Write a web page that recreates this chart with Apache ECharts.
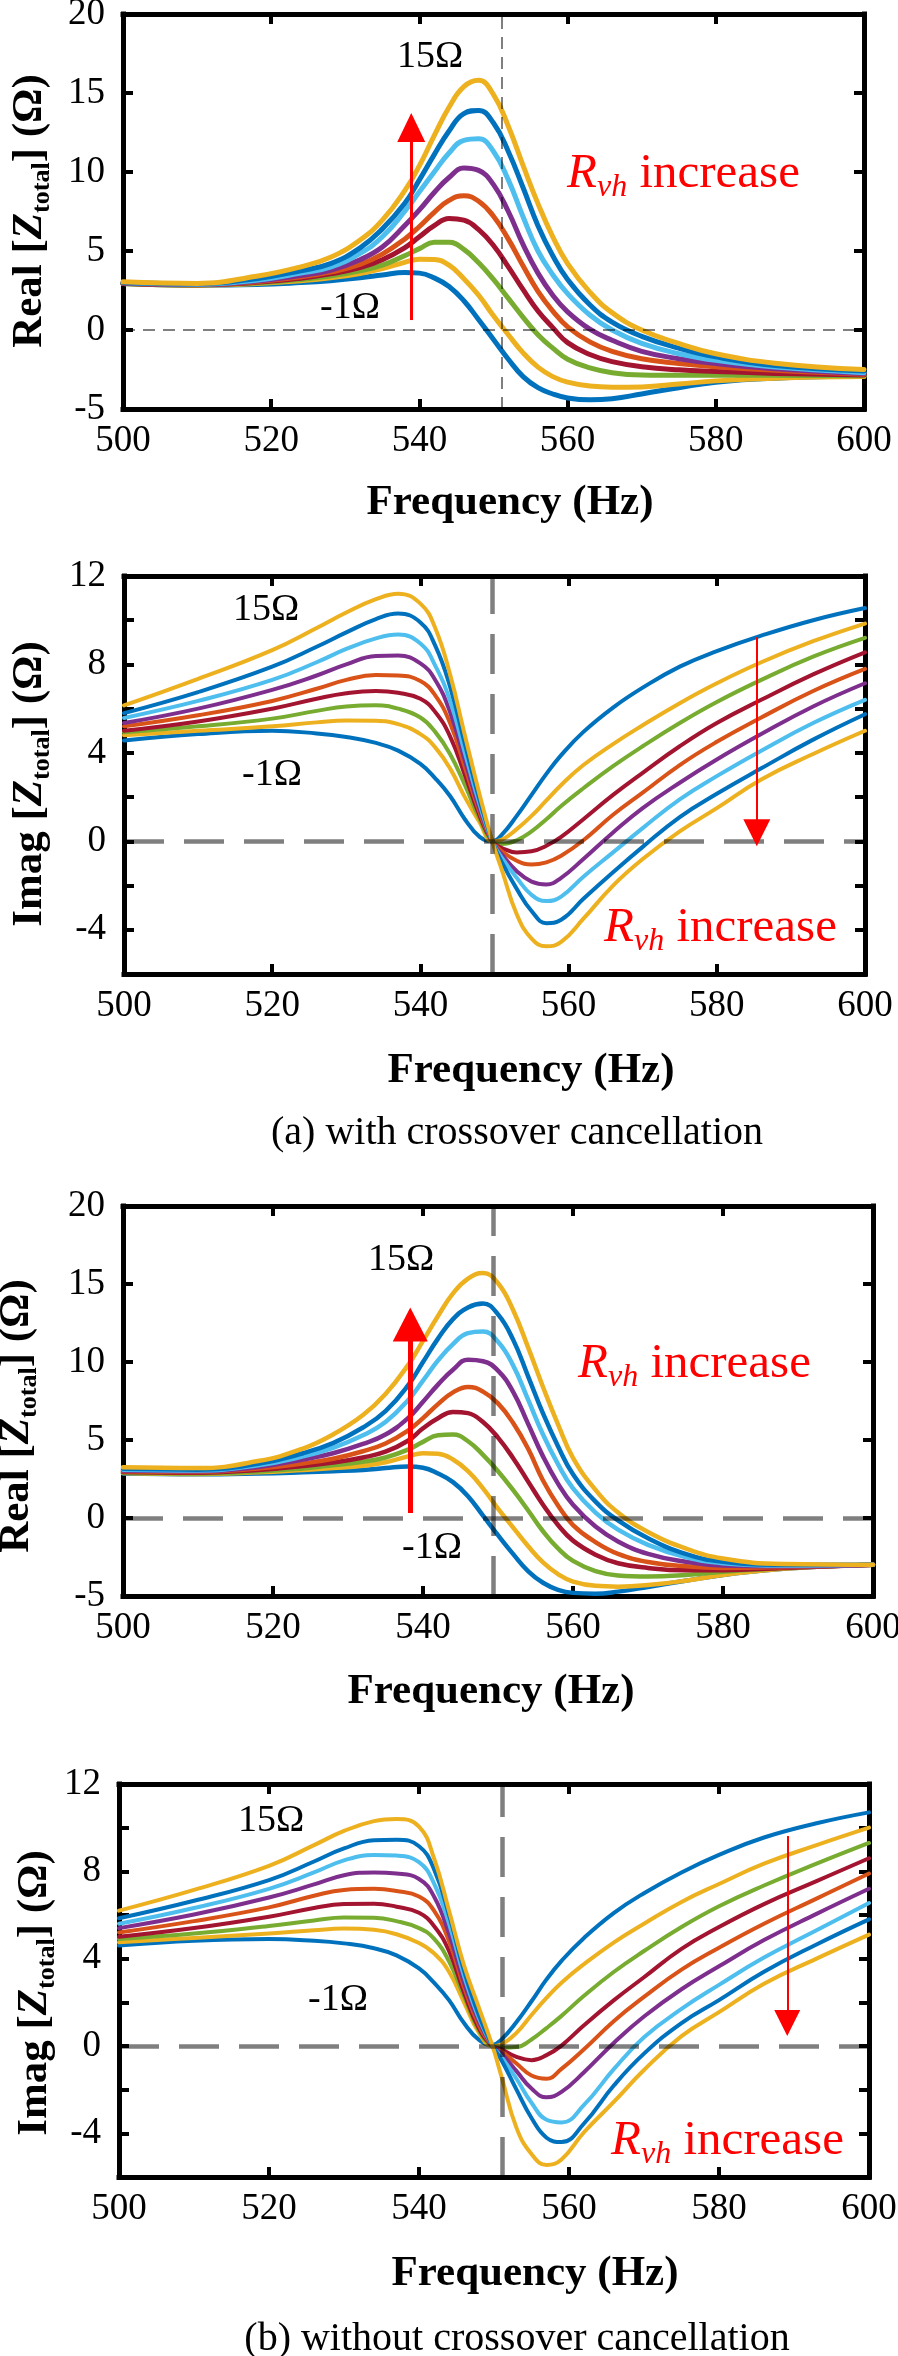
<!DOCTYPE html>
<html><head><meta charset="utf-8">
<script src="https://cdn.jsdelivr.net/npm/echarts@6/dist/echarts.min.js"></script>
<style>html,body{margin:0;padding:0;background:#fff}#c{width:898px;height:2356px}</style>
</head><body><div id="c"></div>
<script>
// ---------- DATA ----------
const rvhValues = ['-1Ω', '1Ω', '3Ω', '5Ω', '7Ω', '9Ω', '11Ω', '13Ω', '15Ω'];
const curveColors = ['#0072BD', '#EDB120', '#77AC30', '#A2142F', '#D95319', '#7E2F8E', '#4DBEEE', '#0072BD', '#EDB120'];

// Real part frequency grid (Hz)
const freqReal = [500, 510, 518, 524, 528, 532, 535, 538, 540, 542, 544, 546, 548, 550, 552, 554, 556, 558, 560, 563, 566, 570, 575, 580, 588, 600];

// (a) with crossover cancellation – Real
const realA_m1 = [2.94, 2.84, 2.88, 3.0, 3.12, 3.3, 3.48, 3.64, 3.6, 3.3, 2.75, 1.85, 0.65, -0.6, -1.85, -2.95, -3.65, -4.05, -4.3, -4.42, -4.35, -4.05, -3.65, -3.3, -3.05, -2.9];
const realA_p1 = [2.94, 2.84, 2.94, 3.12, 3.3, 3.58, 3.88, 4.28, 4.48, 4.46, 4.1, 3.25, 2.2, 0.9, -0.3, -1.45, -2.35, -2.95, -3.3, -3.55, -3.62, -3.6, -3.42, -3.22, -3.05, -2.95];
const realA_p3 = [2.95, 2.85, 2.98, 3.2, 3.42, 3.75, 4.1, 4.7, 5.15, 5.55, 5.55, 5.1, 4.25, 3.2, 2.0, 0.8, -0.3, -1.15, -1.85, -2.4, -2.7, -2.85, -2.87, -2.87, -2.87, -2.9];
const realA_p5 = [2.96, 2.86, 3.02, 3.28, 3.55, 3.95, 4.45, 5.2, 5.9, 6.6, 7.05, 6.95, 6.35, 5.35, 4.0, 2.55, 1.2, 0.15, -0.8, -1.55, -2.0, -2.32, -2.52, -2.62, -2.75, -2.85];
const realA_p7 = [2.97, 2.87, 3.06, 3.36, 3.66, 4.15, 4.8, 5.75, 6.55, 7.45, 8.2, 8.5, 8.15, 7.2, 5.75, 4.05, 2.45, 1.2, 0.2, -0.75, -1.35, -1.82, -2.12, -2.32, -2.55, -2.8];
const realA_p9 = [2.98, 2.88, 3.1, 3.45, 3.78, 4.45, 5.25, 6.6, 7.6, 8.7, 9.65, 10.25, 10.1, 9.2, 7.5, 5.4, 3.6, 2.2, 1.15, 0.05, -0.65, -1.35, -1.82, -2.12, -2.45, -2.75];
const realA_p11 = [3.0, 2.9, 3.15, 3.6, 3.98, 4.85, 5.9, 7.5, 8.75, 10.0, 11.2, 12.0, 12.1, 11.3, 9.5, 7.15, 5.0, 3.5, 2.3, 0.95, 0.0, -0.85, -1.5, -1.92, -2.35, -2.7];
const realA_p13 = [3.0, 2.92, 3.25, 3.75, 4.2, 5.2, 6.4, 8.0, 9.5, 11.1, 12.6, 13.7, 13.9, 13.1, 11.3, 9.0, 6.6, 4.7, 3.2, 1.6, 0.5, -0.4, -1.15, -1.7, -2.25, -2.6];
const realA_p15 = [3.05, 2.95, 3.4, 4.0, 4.6, 5.7, 6.95, 8.8, 10.4, 12.3, 14.1, 15.4, 15.8, 14.9, 12.9, 10.4, 8.0, 5.9, 4.2, 2.4, 1.1, 0.0, -0.85, -1.5, -2.1, -2.5];

// (b) without crossover cancellation – Real
const realB_m1 = [2.85, 2.8, 2.85, 2.93, 3.0, 3.08, 3.2, 3.3, 3.22, 2.85, 2.3, 1.4, 0.15, -1.1, -2.3, -3.4, -4.15, -4.6, -4.8, -4.85, -4.72, -4.42, -4.02, -3.65, -3.25, -3.0];
const realB_p1 = [2.88, 2.82, 2.93, 3.08, 3.2, 3.35, 3.57, 3.95, 4.15, 4.12, 3.75, 3.0, 1.9, 0.6, -0.6, -1.8, -2.85, -3.6, -4.08, -4.35, -4.4, -4.3, -4.02, -3.65, -3.25, -3.0];
const realB_p3 = [2.9, 2.85, 2.98, 3.18, 3.38, 3.6, 3.88, 4.38, 4.88, 5.3, 5.35, 4.92, 4.05, 3.0, 1.8, 0.5, -0.85, -1.95, -2.75, -3.4, -3.68, -3.75, -3.65, -3.45, -3.2, -3.0];
const realB_p5 = [2.95, 2.9, 3.08, 3.33, 3.55, 3.88, 4.25, 4.95, 5.75, 6.4, 6.8, 6.72, 6.15, 5.15, 3.85, 2.35, 0.85, -0.45, -1.45, -2.35, -2.9, -3.2, -3.35, -3.35, -3.2, -3.0];
const realB_p7 = [3.0, 2.95, 3.17, 3.5, 3.8, 4.28, 4.78, 5.6, 6.4, 7.3, 8.05, 8.4, 8.1, 7.35, 6.1, 4.45, 2.4, 0.8, -0.45, -1.55, -2.3, -2.82, -3.1, -3.2, -3.15, -3.0];
const realB_p9 = [3.05, 3.0, 3.27, 3.75, 4.15, 4.75, 5.35, 6.4, 7.45, 8.55, 9.5, 10.15, 10.05, 9.45, 8.1, 6.05, 3.95, 2.2, 0.85, -0.55, -1.5, -2.3, -2.8, -3.05, -3.1, -3.0];
const realB_p11 = [3.1, 3.05, 3.38, 3.95, 4.5, 5.3, 6.15, 7.55, 8.8, 10.1, 11.15, 11.85, 11.95, 11.3, 9.8, 7.6, 5.35, 3.45, 1.9, 0.35, -0.75, -1.72, -2.5, -2.9, -3.05, -3.0];
const realB_p13 = [3.15, 3.1, 3.48, 4.15, 4.8, 5.8, 6.85, 8.5, 10.0, 11.5, 12.75, 13.5, 13.75, 13.05, 11.45, 9.1, 6.7, 4.6, 2.8, 1.05, -0.15, -1.3, -2.3, -2.8, -3.0, -3.0];
const realB_p15 = [3.25, 3.2, 3.65, 4.45, 5.35, 6.6, 7.95, 9.8, 11.35, 12.95, 14.4, 15.35, 15.7, 15.05, 13.35, 10.95, 8.4, 6.0, 3.85, 1.8, 0.35, -0.9, -1.95, -2.6, -2.95, -3.0];

// Imag part frequency grids (Hz)
const freqImagA = [500, 510, 520, 526, 530, 534, 537, 540, 542, 544, 546, 548, 549.7, 551, 553, 555, 557, 559, 562, 566, 570, 575, 580, 586, 593, 600];
const freqImagB = [500, 510, 520, 526, 530, 534, 537, 540, 542, 544, 546, 548, 549.8, 551, 553, 555, 557, 559, 562, 566, 570, 575, 580, 586, 593, 600];

// (a) with crossover cancellation – Imag
const imagA_m1 = [4.56, 4.85, 5.0, 4.88, 4.72, 4.45, 4.1, 3.5, 2.85, 2.05, 1.0, 0.2, 0.0, 0.3, 1.15, 2.1, 3.05, 3.9, 4.95, 6.05, 6.95, 7.9, 8.6, 9.3, 10.0, 10.55];
const imagA_p1 = [4.8, 5.0, 5.2, 5.38, 5.47, 5.45, 5.3, 4.85, 4.25, 3.3, 2.0, 0.85, 0.0, 0.08, 0.55, 1.15, 1.85, 2.55, 3.45, 4.4, 5.25, 6.25, 7.15, 8.1, 9.05, 9.85];
const imagA_p3 = [4.93, 5.2, 5.55, 5.9, 6.1, 6.15, 6.0, 5.6, 4.95, 3.95, 2.55, 1.0, 0.0, -0.12, 0.05, 0.45, 1.0, 1.6, 2.4, 3.4, 4.3, 5.35, 6.3, 7.3, 8.35, 9.2];
const imagA_p5 = [5.0, 5.42, 6.0, 6.45, 6.7, 6.8, 6.72, 6.45, 5.85, 4.75, 3.0, 1.15, 0.0, -0.3, -0.5, -0.45, -0.2, 0.2, 1.0, 2.1, 3.1, 4.3, 5.35, 6.4, 7.55, 8.55];
const imagA_p7 = [5.2, 5.7, 6.35, 6.9, 7.3, 7.52, 7.5, 7.25, 6.6, 5.35, 3.35, 1.3, 0.0, -0.45, -0.88, -1.05, -0.95, -0.65, 0.05, 1.2, 2.2, 3.45, 4.5, 5.6, 6.8, 7.8];
const imagA_p9 = [5.35, 6.0, 6.85, 7.5, 8.0, 8.38, 8.4, 8.05, 7.3, 5.85, 3.65, 1.45, 0.0, -0.6, -1.35, -1.82, -1.95, -1.65, -0.8, 0.4, 1.5, 2.65, 3.7, 4.85, 6.1, 7.15];
const imagA_p11 = [5.58, 6.35, 7.3, 8.1, 8.7, 9.18, 9.35, 8.95, 7.95, 6.35, 4.0, 1.65, 0.0, -0.75, -1.65, -2.42, -2.7, -2.5, -1.6, -0.5, 0.6, 1.9, 2.95, 4.1, 5.35, 6.4];
const imagA_p13 = [5.8, 6.75, 7.9, 8.8, 9.45, 10.05, 10.3, 9.9, 8.85, 7.0, 4.4, 1.85, 0.0, -0.95, -2.15, -3.15, -3.7, -3.55, -2.6, -1.4, -0.25, 1.1, 2.15, 3.3, 4.6, 5.75];
const imagA_p15 = [6.15, 7.35, 8.65, 9.65, 10.35, 10.95, 11.2, 10.75, 9.65, 7.55, 4.8, 2.1, 0.0, -1.3, -3.3, -4.4, -4.75, -4.55, -3.5, -2.0, -0.8, 0.45, 1.5, 2.8, 3.95, 5.0];

// (b) without crossover cancellation – Imag
const imagB_m1 = [4.6, 4.82, 4.9, 4.82, 4.7, 4.48, 4.15, 3.55, 2.9, 2.1, 1.05, 0.28, 0.05, 0.3, 1.1, 2.05, 3.05, 3.9, 4.95, 6.1, 7.0, 7.95, 8.75, 9.55, 10.2, 10.7];
const imagB_p1 = [4.75, 4.95, 5.15, 5.3, 5.38, 5.32, 5.12, 4.72, 4.25, 3.4, 2.0, 0.6, 0.0, 0.08, 0.6, 1.42, 2.2, 2.9, 3.75, 4.75, 5.6, 6.6, 7.42, 8.35, 9.2, 10.0];
const imagB_p3 = [4.9, 5.15, 5.5, 5.75, 5.88, 5.87, 5.72, 5.4, 4.92, 3.88, 2.28, 0.7, 0.0, -0.08, -0.05, 0.3, 0.82, 1.38, 2.3, 3.4, 4.35, 5.45, 6.4, 7.35, 8.35, 9.3];
const imagB_p5 = [5.0, 5.4, 5.92, 6.32, 6.5, 6.52, 6.38, 6.1, 5.5, 4.35, 2.45, 0.8, 0.0, -0.15, -0.5, -0.65, -0.42, 0.02, 0.95, 2.1, 3.15, 4.45, 5.45, 6.5, 7.55, 8.6];
const imagB_p7 = [5.2, 5.72, 6.35, 6.88, 7.15, 7.2, 7.1, 6.85, 6.2, 4.8, 2.7, 0.95, 0.0, -0.25, -0.8, -1.35, -1.5, -1.05, -0.15, 1.15, 2.25, 3.5, 4.5, 5.6, 6.75, 7.9];
const imagB_p9 = [5.4, 6.02, 6.8, 7.4, 7.82, 7.95, 7.9, 7.65, 6.85, 5.15, 2.9, 1.1, 0.0, -0.35, -1.15, -1.95, -2.35, -2.1, -1.2, 0.15, 1.35, 2.6, 3.65, 4.85, 6.05, 7.2];
const imagB_p11 = [5.6, 6.32, 7.2, 7.95, 8.5, 8.75, 8.72, 8.42, 7.45, 5.6, 3.2, 1.25, 0.0, -0.5, -1.5, -2.6, -3.38, -3.5, -2.7, -1.05, 0.4, 1.7, 2.8, 4.05, 5.3, 6.55];
const imagB_p13 = [5.85, 6.65, 7.6, 8.45, 9.05, 9.42, 9.45, 9.15, 8.1, 6.0, 3.45, 1.4, 0.0, -0.65, -2.0, -3.3, -4.2, -4.4, -3.55, -1.8, -0.35, 1.05, 2.1, 3.4, 4.65, 5.8];
const imagB_p15 = [6.2, 7.15, 8.25, 9.2, 9.85, 10.3, 10.4, 10.05, 8.6, 6.2, 3.7, 1.75, 0.0, -1.4, -3.75, -4.95, -5.45, -5.2, -3.95, -2.55, -1.1, 0.45, 1.55, 2.85, 4.0, 5.1];

// axis ranges [min, max, interval]
const xRange = [500, 600, 20];
const realYRange = [-5, 20, 5];
const imagYRange = [-6, 12, 2];

// annotation values (data coordinates)
const guideFreq = [551.1, 549.7, 549.4, 551.1];   // vertical dashed line
const arrowFreq = [538.9, 585.4, 538.3, 589.1];
const arrowFrom = [0.63, 9.23, 0.32, 9.62];
const arrowTo = [12.82, 0.39, 12.4, 1.05];

// ---------- LAYOUT / STYLE ----------
const panels = [
  { freq: freqReal, sets: [realA_m1, realA_p1, realA_p3, realA_p5, realA_p7, realA_p9, realA_p11, realA_p13, realA_p15], y: realYRange, imag: false,
    grid: { left: 123, top: 14, width: 741, height: 395 }, lw: 5, gW: 2, gDash: [12, 8], aW: 3, head: [28, 29] },
  { freq: freqImagA, sets: [imagA_m1, imagA_p1, imagA_p3, imagA_p5, imagA_p7, imagA_p9, imagA_p11, imagA_p13, imagA_p15], y: imagYRange, imag: true,
    grid: { left: 124, top: 576, width: 741, height: 398 }, lw: 4, gW: 4.5, gDash: [40, 20], aW: 2, head: [27, 27] },
  { freq: freqReal, sets: [realB_m1, realB_p1, realB_p3, realB_p5, realB_p7, realB_p9, realB_p11, realB_p13, realB_p15], y: realYRange, imag: false,
    grid: { left: 123, top: 1206, width: 750, height: 390 }, lw: 4.5, gW: 4.5, gDash: [40, 20], aW: 5, head: [35, 34] },
  { freq: freqImagB, sets: [imagB_m1, imagB_p1, imagB_p3, imagB_p5, imagB_p7, imagB_p9, imagB_p11, imagB_p13, imagB_p15], y: imagYRange, imag: true,
    grid: { left: 119, top: 1784, width: 750, height: 393 }, lw: 4, gW: 4.5, gDash: [40, 20], aW: 2, head: [26, 26] }
];

const FONT = '"Liberation Serif", "Times New Roman", serif';
const frameLine = { color: '#000', width: 5, cap: 'square' };
const tickStyle = { inside: true, length: 10, lineStyle: { color: '#000', width: 4 } };
const labelStyle = { fontFamily: FONT, fontSize: 37, color: '#000' };

const grids = [], xAxes = [], yAxes = [], series = [];
panels.forEach((p, i) => {
  grids.push(Object.assign({ containLabel: false, outerBoundsMode: 'none' }, p.grid));
  xAxes.push({ type: 'value', gridIndex: i, position: 'bottom', min: xRange[0], max: xRange[1], interval: xRange[2],
    axisLine: { show: true, onZero: false, lineStyle: frameLine }, axisTick: tickStyle, splitLine: { show: false },
    axisLabel: Object.assign({ margin: 14 }, labelStyle) });
  yAxes.push({ type: 'value', gridIndex: i, position: 'left', min: p.y[0], max: p.y[1], interval: p.y[2],
    axisLine: { show: true, onZero: false, lineStyle: frameLine }, axisTick: tickStyle, splitLine: { show: false },
    axisLabel: Object.assign({ margin: 18, formatter: v => (p.imag ? (v % 4 === 0 ? String(v) : '') : String(v)) }, labelStyle) });
});
panels.forEach((p, i) => {
  xAxes.push({ type: 'value', gridIndex: i, position: 'top', min: xRange[0], max: xRange[1], interval: xRange[2],
    axisLine: { show: true, onZero: false, lineStyle: frameLine }, axisTick: tickStyle, splitLine: { show: false }, axisLabel: { show: false } });
  yAxes.push({ type: 'value', gridIndex: i, position: 'right', min: p.y[0], max: p.y[1], interval: p.y[2],
    axisLine: { show: true, onZero: false, lineStyle: frameLine }, axisTick: tickStyle, splitLine: { show: false }, axisLabel: { show: false } });
});

panels.forEach((p, i) => {
  p.sets.forEach((vals, k) => {
    const s = {
      type: 'line', name: rvhValues[k] + '_' + i, xAxisIndex: i, yAxisIndex: i,
      data: p.freq.map((f, j) => [f, vals[j]]),
      showSymbol: false, smooth: 0.45, z: 2 + k * 0.01,
      lineStyle: { color: curveColors[k], width: p.lw, join: 'round', cap: 'round' }, itemStyle: { color: curveColors[k] },
      emphasis: { disabled: true }, silent: true
    };
    if (k === p.sets.length - 1) {
      const guide = { color: 'rgba(0,0,0,0.5)', width: p.gW, type: p.gDash };
      s.markLine = {
        silent: true, symbol: ['none', 'none'], label: { show: false }, animation: false,
        data: [
          { xAxis: guideFreq[i], lineStyle: guide },
          { yAxis: 0, lineStyle: guide },
          [ { coord: [arrowFreq[i], arrowFrom[i]], symbol: 'none', lineStyle: { color: '#FF0000', width: p.aW, type: 'solid' } },
            { coord: [arrowFreq[i], arrowTo[i]], symbol: 'triangle', symbolSize: p.head } ]
        ]
      };
    }
    series.push(s);
  });
});

// ---------- TEXT ----------
const graphics = [];
const measCtx = document.createElement('canvas').getContext('2d');
function textW(font, s) { measCtx.font = font; return measCtx.measureText(s).width; }
function txt(x, y, text, font, fill) {
  graphics.push({ type: 'text', x: x, y: y, silent: true, z: 100,
    style: { text: text, font: font, fill: fill || '#000', align: 'center', verticalAlign: 'middle', textAlign: 'center', textVerticalAlign: 'middle' } });
}
// composite text made of pieces [text, font, dy]; placed left-to-right in a (possibly rotated) group
function composite(x, y, pieces, align, rotation, fill) {
  const widths = pieces.map(p => textW(p[1], p[0]));
  const total = widths.reduce((a, b) => a + b, 0);
  let cx = align === 'center' ? -total / 2 : 0;
  const children = pieces.map((p, idx) => {
    const el = { type: 'text', x: cx, y: p[2], silent: true, z: 100,
      style: { text: p[0], font: p[1], fill: fill, align: 'left', verticalAlign: 'middle', textAlign: 'left', textVerticalAlign: 'middle' } };
    cx += widths[idx];
    return el;
  });
  graphics.push({ type: 'group', x: x, y: y, rotation: rotation || 0, silent: true, z: 100, children: children });
}

const axisTitleFont = 'bold 43px ' + FONT;
[[510, 503], [531, 1071], [491, 1692], [535, 2274]].forEach(c => txt(c[0], c[1], 'Frequency (Hz)', axisTitleFont));
txt(517, 1133, '(a) with crossover cancellation', '40px ' + FONT);
txt(517, 2339, '(b) without crossover cancellation', '40px ' + FONT);
[[430, 57], [266, 610], [401, 1260], [271, 1821]].forEach(c => txt(c[0], c[1], '15Ω', '38px ' + FONT));
[[350, 308], [272, 775], [432, 1548], [338, 2000]].forEach(c => txt(c[0], c[1], '-1Ω', '38px ' + FONT));

function yTitle(x, y, word) {
  composite(x, y, [
    [word + ' [', 'bold 43px ' + FONT, 0],
    ['Z', 'italic bold 43px ' + FONT, 0],
    ['total', 'bold 26px ' + FONT, 12.5],
    ['] (Ω)', 'bold 43px ' + FONT, 0]
  ], 'center', Math.PI / 2, '#000');
}
yTitle(30, 211, 'Real');
yTitle(30, 784, 'Imag');
yTitle(17, 1416, 'Real');
yTitle(35, 1993, 'Imag');

[[567, 174], [604, 928], [578, 1364], [611, 2141]].forEach(c => {
  composite(c[0], c[1], [
    ['R', 'italic 49px ' + FONT, 0],
    ['vh', 'italic 32px ' + FONT, 13.5],
    [' increase', '49px ' + FONT, 0]
  ], 'left', 0, '#FF0000');
});

const chart = echarts.init(document.getElementById('c'), null, { renderer: 'canvas', width: 898, height: 2356 });
chart.setOption({
  animation: false,
  backgroundColor: '#fff',
  textStyle: { fontFamily: FONT },
  grid: grids, xAxis: xAxes, yAxis: yAxes, series: series,
  graphic: { elements: graphics }
});
</script>
</body></html>
